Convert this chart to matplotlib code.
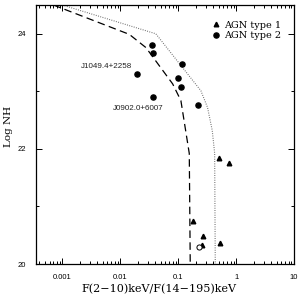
import matplotlib
matplotlib.use("Agg")
import matplotlib.pyplot as plt
from matplotlib.ticker import FixedLocator, LogLocator, NullFormatter, MultipleLocator
import numpy as np

# AGN type 1 (triangles)
t1_ratio = [0.50, 0.75, 0.18, 0.27, 0.262, 0.53]
t1_nh = [21.85, 21.76, 20.75, 20.48, 20.33, 20.36]

# AGN type 2 (filled circles)
t2_ratio = [0.0352, 0.037, 0.116, 0.0194, 0.100, 0.111, 0.036, 0.221]
t2_nh = [23.81, 23.67, 23.48, 23.30, 23.23, 23.07, 22.90, 22.77]

# open circle
open_ratio = [0.224]
open_nh = [20.29]

# model curves
dash_ratio = [0.0007, 0.0143, 0.0277, 0.080, 0.111, 0.155, 0.161]
dash_nh = [24.5, 23.99, 23.76, 23.13, 22.84, 21.92, 20.0]
dot_ratio = [0.001, 0.041, 0.246, 0.32, 0.386, 0.425, 0.435]
dot_nh = [24.5, 24.0, 23.01, 22.72, 22.32, 21.92, 20.0]

labels = ["J1049.4+2258", "J0902.0+6007"]

xticks = [0.001, 0.01, 0.1, 1, 10]
xticklabels = ["0.001", "0.01", "0.1", "1", "10"]
yticks = [20, 22, 24]
yticklabels = ["20", "22", "24"]

fig = plt.figure(figsize=(3.02, 2.94), dpi=100)
ax = fig.add_axes([0.119, 0.102, 0.855, 0.881])

ax.plot(dash_ratio, dash_nh, color="black", lw=0.9, ls=(0, (6, 3.5)))
ax.plot(dot_ratio, dot_nh, color="#666666", lw=0.8, ls=(0, (0.8, 1.3)))

ax.plot(t1_ratio, t1_nh, ls="none", marker="^", ms=3.3, color="black", label="AGN type 1")
ax.plot(t2_ratio, t2_nh, ls="none", marker="o", ms=3.7, color="black", label="AGN type 2")
ax.plot(open_ratio, open_nh, ls="none", marker="o", ms=3.7, mfc="white", mec="black", mew=0.7)

ax.text(0.0163, 23.43, labels[0], fontsize=5.8, ha="right", va="center",
        family="Liberation Sans", color="#222222")
ax.text(0.020, 22.70, labels[1], fontsize=5.8, ha="center", va="center",
        family="Liberation Sans", color="#222222")

ax.set_xscale("log")
ax.set_xlim(3.5e-4, 10)
ax.set_ylim(20, 24.5)
ax.xaxis.set_major_locator(FixedLocator(xticks))
ax.set_xticklabels(xticklabels, fontsize=5.5, family="Liberation Sans")
ax.xaxis.set_minor_locator(LogLocator(base=10, subs=np.arange(2, 10)))
ax.xaxis.set_minor_formatter(NullFormatter())
ax.set_yticks(yticks)
ax.set_yticklabels(yticklabels, fontsize=5.5, family="Liberation Sans")
ax.yaxis.set_minor_locator(MultipleLocator(1))

ax.tick_params(which="both", direction="in", top=True, right=True, width=0.7)
ax.tick_params(which="major", length=4, pad=7)
ax.tick_params(which="minor", length=2)
for s in ax.spines.values():
    s.set_linewidth(0.9)

ax.set_xlabel("F(2\u221210)keV/F(14\u2212195)keV", fontsize=8, family="DejaVu Serif")
ax.xaxis.set_label_coords(0.477, -0.075)
ax.set_ylabel("Log NH", fontsize=7.5, family="DejaVu Serif")
ax.yaxis.set_label_coords(-0.09, 0.53)

leg = ax.legend(loc="upper right", bbox_to_anchor=(0.975, 0.965), frameon=False,
                prop={"family": "DejaVu Serif", "size": 7}, handlelength=0.5,
                handletextpad=0.5, labelspacing=0.12, borderaxespad=0.3)

fig.savefig("out.png", dpi=100)
